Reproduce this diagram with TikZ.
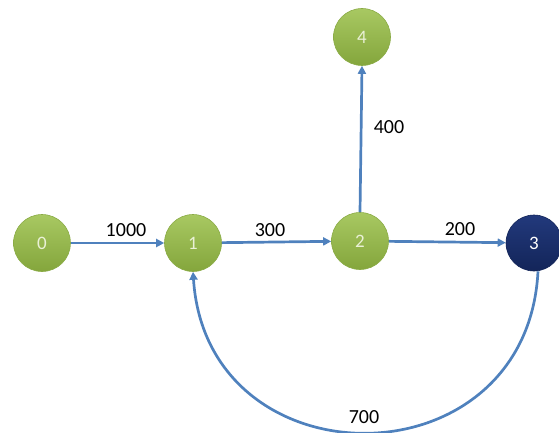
\documentclass[tikz,border=0pt]{standalone}
\usepackage{fontspec}
\setmainfont{Carlito}
\usetikzlibrary{arrows.meta}
\definecolor{edgeblue}{HTML}{4F81BD}
\definecolor{gtop}{HTML}{A8C862}
\definecolor{gbot}{HTML}{84A63C}
\definecolor{gline}{HTML}{8AAB45}
\definecolor{ntop}{HTML}{22397C}
\definecolor{nbot}{HTML}{132559}
\definecolor{ntext}{HTML}{EAF1D6}
\tikzset{
  gnode/.style={circle, minimum size=57pt, inner sep=0pt, top color=gtop, bottom color=gbot, draw=gline, line width=0.6pt, text=ntext, font=\fontsize{19}{19}\selectfont},
  bnode/.style={circle, minimum size=56pt, inner sep=0pt, top color=ntop, bottom color=nbot, draw=nbot, line width=0.6pt, text=white, font=\fontsize{19}{19}\selectfont},
  edge/.style={draw=edgeblue, line width=2.7pt, -{Triangle[length=8pt,width=8pt]}},
  elabel/.style={font=\fontsize{20}{20}\selectfont, text=black, inner sep=0pt}
}
\begin{document}
\begin{tikzpicture}[x=1pt,y=-1pt]
\useasboundingbox (0,0) rectangle (559,433);
\node[gnode] (n0) at (42,243) {0};
\node[gnode] (n1) at (193,243) {1};
\node[gnode] (n2) at (360,241) {2};
\node[bnode] (n3) at (534,243) {3};
\node[gnode] (n4) at (362,37) {4};
\draw[edge] (n0) -- (n1);
\draw[edge] (n1) -- (n2);
\draw[edge] (n2) -- (n3);
\draw[edge] (n2.north) -- (n4.south);
\draw[edge] ([xshift=4pt]n3.south) .. controls (527,486) and (207,486) .. (n1.south);
\node[elabel] (l1000) at (126,230) {1000};
\node[elabel] (l300) at (270,230) {300};
\node[elabel] (l200) at (460,229) {200};
\node[elabel] (l400) at (389,127) {400};
\node[elabel] (l700) at (364,417) {700};
\end{tikzpicture}
\end{document}
